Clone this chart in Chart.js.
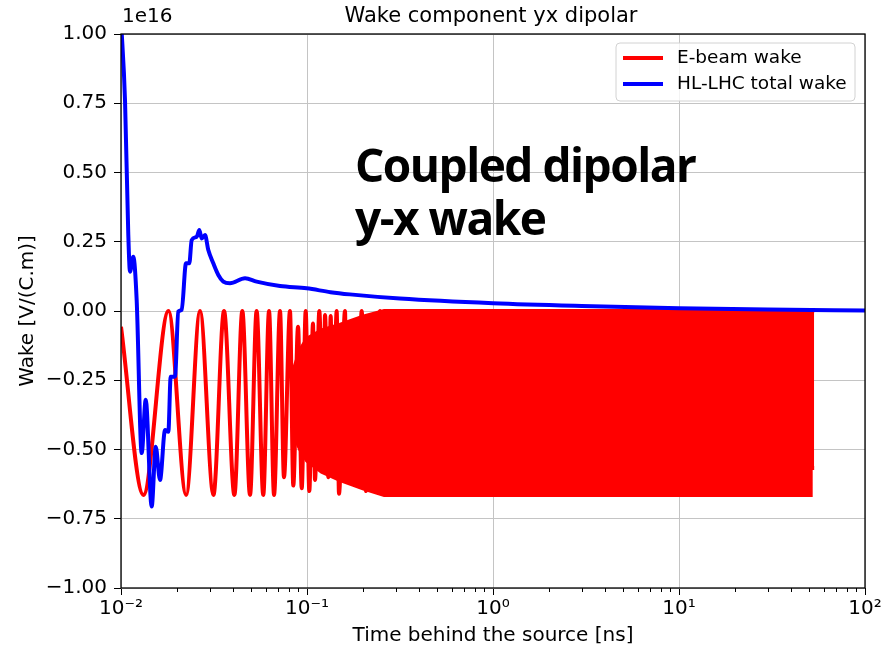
<!DOCTYPE html>
<html>
<head>
<meta charset="utf-8">
<title>Wake component yx dipolar</title>
<script src="https://cdn.jsdelivr.net/npm/chart.js@4.4.1/dist/chart.umd.min.js"></script>
<style>
  html, body { margin: 0; padding: 0; background: #fff; }
  #wrap { width: 895px; height: 649px; }
</style>
</head>
<body>
<div id="wrap"><canvas id="wakeChart" width="895" height="649"></canvas></div>
<script>
// time behind the source [ns] and wake in units of 1e16 V/(C.m)

// E-beam wake: extrema of the oscillation where it can still be told apart
const tRed = [0.0100, 0.0132, 0.0180, 0.0224, 0.0266, 0.0314, 0.0358, 0.0407, 0.0449, 0.0494,
              0.0536, 0.0582, 0.0625, 0.0665, 0.0716, 0.0752, 0.0810, 0.0844, 0.0895, 0.0937,
              0.0984, 0.1029, 0.1077, 0.1104, 0.1165, 0.1224, 0.1250, 0.1302, 0.1341, 0.1375,
              0.1444, 0.1486, 0.1601, 0.1635, 0.1768, 0.1857, 0.1968, 0.2076, 0.2208, 0.2320,
              0.2469, 0.2611, 0.2760, 0.2936, 0.3123, 0.3303, 0.3491, 0.3715, 0.3953, 0.4204];
const wRed = [-0.057, -0.664, 0, -0.664, 0, -0.664, 0, -0.664, 0, -0.664,
              0, -0.664, 0, -0.664, 0, -0.60, 0, -0.63, -0.057, -0.64,
              0, -0.65, -0.045, -0.61, 0, -0.574, -0.014, -0.60, -0.018, -0.574,
              0, -0.66, 0, -0.585, -0.13, -0.62, 0, -0.65, -0.05, -0.55,
              0, -0.65, 0, -0.65, 0, -0.60, 0, -0.64, 0, -0.66];

// past ~0.08 ns the E-beam oscillation is so dense it fills this envelope
const bandT      = [0.084, 0.092, 0.10, 0.12, 0.15, 0.20, 0.26, 51.0, 51.05, 53.3];
const bandTop    = [-0.22, -0.14, -0.10, -0.07, -0.05, -0.02, 0, 0, 0, 0];
const bandBottom = [-0.44, -0.50, -0.54, -0.58, -0.61, -0.64, -0.664, -0.664, -0.567, -0.567];

// HL-LHC total wake
const tBlue = [0.0100, 0.01051, 0.01094, 0.01118, 0.01164, 0.01214, 0.01292, 0.01358, 0.01462, 0.01537,
               0.01621, 0.01725, 0.01797, 0.01850, 0.01951, 0.02033, 0.02120, 0.02236, 0.02329, 0.02399,
               0.02553, 0.02636, 0.02716, 0.02829, 0.02947, 0.03135, 0.03336, 0.03548, 0.03855, 0.04642,
               0.05364, 0.0716, 0.0996, 0.1337, 0.170, 0.316, 1.0, 3.0, 10, 30, 100];
const wBlue = [1.05, 0.76, 0.28, 0.142, 0.196, 0.04, -0.513, -0.32, -0.706, -0.49,
               -0.61, -0.43, -0.436, -0.237, -0.237, -0.002, 0.004, 0.172, 0.172, 0.256,
               0.268, 0.292, 0.262, 0.274, 0.22, 0.172, 0.13, 0.106, 0.10, 0.118,
               0.106, 0.09, 0.082, 0.068, 0.06, 0.045, 0.028, 0.018, 0.010, 0.005, 0.002];

const xMajor = [0.01, 0.1, 1, 10, 100];
const xMajorLabels = ['10⁻²', '10⁻¹', '10⁰', '10¹', '10²'];
const yTicks = [-1, -0.75, -0.5, -0.25, 0, 0.25, 0.5, 0.75, 1];

const RED = '#ff0000';
const BLUE = '#0000ff';
const LW = 4;

function toPoints(xs, ys) {
    return xs.map((x, i) => ({ x: x, y: ys[i] }));
}

// frame, minor ticks, legend, title and the note on the plot
const decorations = {
    id: 'decorations',
    afterDatasetsDraw(chart) {
        const ctx = chart.ctx;
        const a = chart.chartArea;
        ctx.save();
        ctx.strokeStyle = '#000';
        ctx.lineWidth = 1.3;
        ctx.strokeRect(a.left, a.top, a.right - a.left, a.bottom - a.top);
        // minor ticks of the log axis
        const xs = chart.scales.x;
        ctx.lineWidth = 1;
        xs.ticks.forEach(t => {
            if (t.major) return;
            const px = Math.round(xs.getPixelForValue(t.value)) + 0.5;
            ctx.beginPath();
            ctx.moveTo(px, a.bottom);
            ctx.lineTo(px, a.bottom + 4);
            ctx.stroke();
        });
        ctx.restore();
    },
    afterDraw(chart) {
        const ctx = chart.ctx;
        const a = chart.chartArea;
        ctx.save();

        // legend
        const lx = 616, ly = 43, lw = 239, lh = 58;
        ctx.beginPath();
        ctx.roundRect(lx, ly, lw, lh, 4);
        ctx.fillStyle = 'rgba(255,255,255,0.8)';
        ctx.fill();
        ctx.strokeStyle = '#d2d2d2';
        ctx.lineWidth = 1;
        ctx.stroke();
        ctx.font = '18.5px "DejaVu Sans"';
        ctx.textBaseline = 'middle';
        ctx.textAlign = 'left';
        [0, 1].forEach(i => {
            const ds = chart.data.datasets[i];
            const y = ly + 15 + i * 26;
            ctx.strokeStyle = ds.borderColor;
            ctx.lineWidth = LW;
            ctx.beginPath();
            ctx.moveTo(623, y);
            ctx.lineTo(663, y);
            ctx.stroke();
            ctx.fillStyle = '#000';
            ctx.fillText(ds.label, 677, y);
        });

        // title and offset text
        ctx.fillStyle = '#000';
        ctx.font = '21px "DejaVu Sans"';
        ctx.textAlign = 'center';
        ctx.fillText('Wake component yx dipolar', (a.left + a.right) / 2 - 2, 17);
        ctx.font = '20px "DejaVu Sans"';
        ctx.textAlign = 'left';
        ctx.fillText('1e16', a.left + 1, 17);

        // note
        ctx.font = 'bold 46px "Open Sans"';
        ctx.letterSpacing = '-1.5px';
        ctx.textBaseline = 'alphabetic';
        ctx.fillText('Coupled dipolar', 355, 182);
        ctx.fillText('y-x wake', 355, 235);
        ctx.restore();
    }
};

Chart.defaults.font.family = '"DejaVu Sans"';
Chart.defaults.color = '#000';

const ctx = document.getElementById('wakeChart').getContext('2d');
new Chart(ctx, {
    type: 'line',
    data: {
        datasets: [{
            label: 'E-beam wake',
            data: toPoints(tRed, wRed),
            borderColor: RED,
            borderWidth: LW,
            pointRadius: 0,
            cubicInterpolationMode: 'monotone',
            fill: false,
            order: 1
        }, {
            label: 'HL-LHC total wake',
            data: toPoints(tBlue, wBlue),
            borderColor: BLUE,
            borderWidth: LW,
            pointRadius: 0,
            cubicInterpolationMode: 'monotone',
            fill: false,
            order: 0
        }, {
            label: 'band top',
            data: toPoints(bandT, bandTop),
            borderColor: RED,
            borderWidth: LW,
            pointRadius: 0,
            fill: false,
            order: 2
        }, {
            label: 'band bottom',
            data: toPoints(bandT, bandBottom),
            borderColor: RED,
            backgroundColor: RED,
            borderWidth: LW,
            pointRadius: 0,
            fill: '-1',
            order: 2
        }]
    },
    options: {
        responsive: false,
        animation: false,
        events: [],
        layout: { padding: { top: 34, right: 30, bottom: 0, left: 0 } },
        plugins: {
            legend: { display: false },
            tooltip: { enabled: false }
        },
        scales: {
            x: {
                type: 'logarithmic',
                min: 0.01,
                max: 100,
                afterBuildTicks: scale => {
                    const ticks = [];
                    xMajor.forEach((v, i) => {
                        ticks.push({ value: v, major: true });
                        if (i < xMajor.length - 1) {
                            for (let k = 2; k < 10; k++) ticks.push({ value: v * k, major: false });
                        }
                    });
                    scale.ticks = ticks;
                },
                afterFit: scale => { scale.height = 61; },
                ticks: {
                    autoSkip: false,
                    maxRotation: 0,
                    minRotation: 0,
                    padding: 2,
                    font: { size: 20 },
                    callback: (value, index, ticks) => {
                        if (!ticks[index].major) return '';
                        return xMajorLabels[xMajor.indexOf(value)];
                    }
                },
                grid: {
                    color: c => (c.tick && c.tick.major ? '#c4c4c4' : 'rgba(0,0,0,0)'),
                    tickColor: c => (c.tick && c.tick.major ? '#000' : 'rgba(0,0,0,0)'),
                    lineWidth: 1,
                    tickLength: 7
                },
                border: { display: false },
                title: {
                    display: true,
                    text: 'Time behind the source [ns]',
                    font: { size: 20 },
                    padding: { top: 0, bottom: 1 }
                }
            },
            y: {
                type: 'linear',
                min: -1,
                max: 1,
                afterBuildTicks: scale => {
                    scale.ticks = yTicks.map(v => ({ value: v }));
                },
                afterFit: scale => { scale.width = 121; },
                ticks: {
                    padding: 7,
                    font: { size: 20 },
                    callback: v => (v < 0 ? '−' : '') + Math.abs(v).toFixed(2)
                },
                grid: {
                    color: '#c4c4c4',
                    tickColor: '#000',
                    lineWidth: 1,
                    tickLength: 7
                },
                border: { display: false },
                title: {
                    display: true,
                    text: 'Wake [V/(C.m)]',
                    font: { size: 20 },
                    padding: { top: 16, bottom: 0 }
                }
            }
        }
    },
    plugins: [decorations]
});
</script>
</body>
</html>
